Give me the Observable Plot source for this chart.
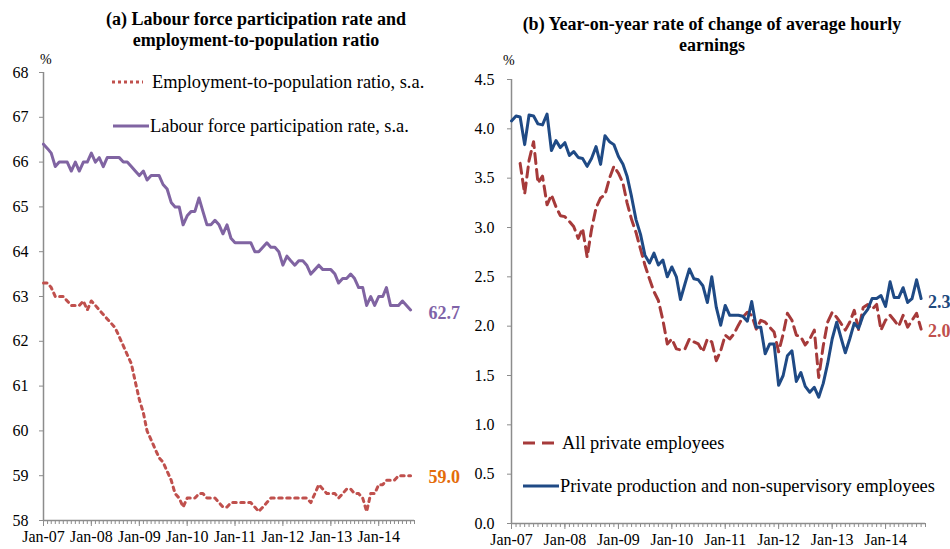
<!DOCTYPE html>
<html><head><meta charset="utf-8">
<script src="https://cdn.jsdelivr.net/npm/d3@7"></script>
<script src="https://cdn.jsdelivr.net/npm/@observablehq/plot@0.6"></script>
<style>
body{margin:0;background:#fff;}
#wrap{position:relative;width:950px;height:549px;font-family:"Liberation Serif","Times New Roman",serif;color:#000;overflow:hidden;background:#fff;}
.panel{position:absolute;top:0;}
.title{position:absolute;text-align:center;font-weight:bold;font-size:18px;line-height:21px;white-space:nowrap;}
.pct{position:absolute;font-size:14px;line-height:14px;}
.leg{position:absolute;font-size:18.4px;line-height:20px;white-space:nowrap;}
.legsvg{position:absolute;}
</style></head><body>
<div id="wrap">
  <div class="title" style="left:56px;width:400px;top:9px;">(a) Labour force participation rate and<br>employment-to-population ratio</div>
  <div class="title" style="left:502px;width:420px;top:14px;line-height:21px;">(b) Year-on-year rate of change of average hourly<br>earnings</div>
  <div id="left" class="panel" style="left:0px;"></div>
  <div id="right" class="panel" style="left:475px;"></div>
  <div class="pct" style="left:40px;top:53px;">%</div>
  <div class="pct" style="left:503px;top:54px;">%</div>
</div>
<script>
// ---------- Data ----------
const startYear = 2007, startMonth = 0;       // Jan-07
const nMonths = 93;                            // Jan-07 .. Sep-14
const axisEnd = new Date(Date.UTC(2014, 9, 1)); // axis runs to Oct-14

// (a) Labour force participation rate, s.a. (%)
const lfpr = [
  66.4, 66.3, 66.2, 65.9, 66.0, 66.0, 66.0, 65.8, 66.0, 65.8, 66.0, 66.0,
  66.2, 66.0, 66.1, 65.9, 66.1, 66.1, 66.1, 66.1, 66.0, 66.0, 65.9, 65.8,
  65.7, 65.8, 65.6, 65.7, 65.7, 65.7, 65.5, 65.4, 65.1, 65.0, 65.0, 64.6,
  64.8, 64.9, 64.9, 65.2, 64.9, 64.6, 64.6, 64.7, 64.6, 64.4, 64.6, 64.3,
  64.2, 64.2, 64.2, 64.2, 64.2, 64.0, 64.0, 64.1, 64.2, 64.1, 64.1, 64.0,
  63.7, 63.9, 63.8, 63.7, 63.8, 63.8, 63.7, 63.5, 63.6, 63.7, 63.6, 63.6,
  63.6, 63.5, 63.3, 63.4, 63.4, 63.5, 63.4, 63.2, 63.2, 62.8, 63.0, 62.8,
  63.0, 63.0, 63.2, 62.8, 62.8, 62.8, 62.9, 62.8, 62.7
];
// (a) Employment-to-population ratio, s.a. (%)
const epop = [
  63.3, 63.3, 63.2, 63.0, 63.0, 63.0, 62.9, 62.8, 62.8, 62.8, 62.9, 62.7,
  62.9, 62.8, 62.7, 62.6, 62.5, 62.4, 62.3, 62.1, 61.9, 61.7, 61.5, 61.1,
  60.7, 60.4, 60.0, 59.8, 59.6, 59.4, 59.3, 59.1, 58.9, 58.6, 58.5, 58.3,
  58.5, 58.5, 58.5, 58.6, 58.6, 58.5, 58.5, 58.5, 58.4, 58.3, 58.3, 58.4,
  58.4, 58.4, 58.4, 58.4, 58.4, 58.3, 58.2, 58.3, 58.4, 58.5, 58.5, 58.5,
  58.5, 58.5, 58.5, 58.5, 58.5, 58.5, 58.5, 58.4, 58.6, 58.8, 58.7, 58.6,
  58.6, 58.6, 58.5, 58.6, 58.7, 58.7, 58.6, 58.6, 58.5, 58.2, 58.6, 58.6,
  58.8, 58.8, 58.9, 58.9, 58.9, 59.0, 59.0, 59.0, 59.0
];
// (b) Private production and non-supervisory employees, y-o-y % change
const prodNonSup = [
  4.08, 4.13, 4.12, 3.84, 4.14, 4.13, 4.05, 4.04, 4.15, 3.78, 3.88, 3.81,
  3.86, 3.73, 3.77, 3.71, 3.70, 3.62, 3.70, 3.82, 3.64, 3.93, 3.87, 3.84,
  3.72, 3.64, 3.52, 3.31, 3.08, 2.93, 2.72, 2.64, 2.74, 2.62, 2.67, 2.50,
  2.60, 2.50, 2.27, 2.43, 2.58, 2.48, 2.47, 2.41, 2.24, 2.50, 2.19, 2.01,
  2.21, 2.11, 2.11, 2.11, 2.10, 2.05, 2.25, 1.99, 1.99, 1.72, 1.82, 1.82,
  1.40, 1.50, 1.70, 1.75, 1.44, 1.53, 1.39, 1.33, 1.38, 1.28, 1.42, 1.62,
  1.87, 2.04, 1.89, 1.73, 1.87, 2.03, 1.98, 2.11, 2.17, 2.28, 2.28, 2.31,
  2.20, 2.45, 2.29, 2.29, 2.39, 2.24, 2.28, 2.47, 2.28
];
// (b) All private employees, y-o-y % change (series starts Mar-07)
const allPrivate = [
  null, null, 3.65, 3.34, 3.68, 3.87, 3.45, 3.52, 3.23, 3.33, 3.21, 3.12,
  3.11, 3.06, 3.01, 2.89, 2.99, 2.70, 2.98, 3.20, 3.30, 3.33, 3.50, 3.62,
  3.55, 3.45, 3.25, 3.08, 2.95, 2.78, 2.62, 2.48, 2.35, 2.26, 2.06, 1.82,
  1.87, 1.77, 1.76, 1.77, 1.87, 1.84, 1.82, 1.74, 1.87, 1.84, 1.65, 1.75,
  1.91, 1.87, 1.92, 2.01, 2.09, 2.14, 2.11, 1.97, 2.06, 2.04, 1.99, 1.94,
  1.74, 1.92, 2.13, 2.06, 1.91, 1.89, 1.81, 1.87, 1.96, 1.48, 1.80, 2.04,
  2.14, 2.09, 2.03, 1.96, 2.04, 2.16, 1.96, 2.19, 2.22, 2.17, 2.22, 1.96,
  2.06, 2.11, 2.06, 2.00, 2.11, 1.99, 2.06, 2.13, 1.97
];
const leftYTicks = [58, 59, 60, 61, 62, 63, 64, 65, 66, 67, 68];
const rightYTicks = [0, 0.5, 1.0, 1.5, 2.0, 2.5, 3.0, 3.5, 4.0, 4.5];
const legendA = ["Employment-to-population ratio, s.a.", "Labour force participation rate, s.a."];
const legendB = ["All private employees", "Private production and non-supervisory employees"];

// ---------- Build ----------
const xStart = new Date(Date.UTC(startYear, startMonth, 1));
const dates = d3.utcMonth.range(xStart, d3.utcMonth.offset(xStart, nMonths));
const rows = dates.map((d, i) => ({date: d, lfpr: lfpr[i], epop: epop[i], prod: prodNonSup[i], all: allPrivate[i]}));
const yearTicks = d3.utcYear.range(xStart, axisEnd);
const monthTicks = d3.utcMonth.range(xStart, d3.utcMonth.offset(axisEnd, 1));
const fmtX = d3.utcFormat("%b-%y");
const last = rows[rows.length - 1];
const axisGrey = "#8c8c8c";

const C = {purple: "#8064A2", purpleLbl: "#7F63A8", epRed: "#C0504D", orange: "#E46C0A",
           blue: "#1F4A85", blueLbl: "#1F497D", darkRed: "#A63A3A", redLbl: "#C0504D"};

const baseStyle = {fontFamily: "'Liberation Serif', 'Times New Roman', serif", fontSize: "16px", color: "#000", background: "transparent", overflow: "visible"};

const left = Plot.plot({
  width: 475, height: 549,
  marginLeft: 43, marginRight: 61, marginTop: 72, marginBottom: 29,
  style: baseStyle,
  x: {type: "utc", domain: [xStart, axisEnd]},
  y: {domain: [58, 68]},
  marks: [
    Plot.axisX({ticks: monthTicks, tickSize: 4, tickFormat: () => "", stroke: axisGrey, label: null}),
    Plot.axisX({ticks: yearTicks, tickSize: 6, tickPadding: 4, tickFormat: fmtX, stroke: axisGrey, label: null}),
    Plot.axisY({ticks: leftYTicks, tickSize: 4, tickPadding: 11, stroke: axisGrey, label: null}),
    Plot.ruleX([xStart], {stroke: axisGrey, strokeWidth: 1.5}),
    Plot.ruleY([58], {stroke: axisGrey, strokeWidth: 1.5}),
    Plot.line(rows, {x: "date", y: "epop", stroke: C.epRed, strokeWidth: 3, strokeDasharray: "3.5,4.5"}),
    Plot.line(rows, {x: "date", y: "lfpr", stroke: C.purple, strokeWidth: 3}),
    Plot.text([last], {x: "date", y: "lfpr", text: d => d.lfpr.toFixed(1), dx: 18, dy: 3, textAnchor: "start", fill: C.purpleLbl, fontWeight: "bold", fontSize: 18}),
    Plot.text([last], {x: "date", y: "epop", text: d => d.epop.toFixed(1), dx: 18, dy: 2, textAnchor: "start", fill: C.orange, fontWeight: "bold", fontSize: 18})
  ]
});
document.getElementById("left").appendChild(left);

const right = Plot.plot({
  width: 475, height: 549,
  marginLeft: 36, marginRight: 25, marginTop: 79, marginBottom: 26,
  style: baseStyle,
  x: {type: "utc", domain: [xStart, axisEnd]},
  y: {domain: [0, 4.5]},
  marks: [
    Plot.axisX({ticks: monthTicks, tickSize: 4, tickFormat: () => "", stroke: axisGrey, label: null}),
    Plot.axisX({ticks: yearTicks, tickSize: 6, tickPadding: 4, tickFormat: fmtX, stroke: axisGrey, label: null}),
    Plot.axisY({ticks: rightYTicks, tickSize: 4, tickPadding: 13, tickFormat: d3.format(".1f"), stroke: axisGrey, label: null}),
    Plot.ruleX([xStart], {stroke: axisGrey, strokeWidth: 1.5}),
    Plot.ruleY([0], {stroke: axisGrey, strokeWidth: 1.5}),
    Plot.line(rows.filter(d => d.all != null), {x: "date", y: "all", stroke: C.darkRed, strokeWidth: 3, strokeDasharray: "10,6"}),
    Plot.line(rows, {x: "date", y: "prod", stroke: C.blue, strokeWidth: 3}),
    Plot.text([last], {x: "date", y: "prod", text: d => d.prod.toFixed(1), dx: 7, dy: 4, textAnchor: "start", fill: C.blueLbl, fontWeight: "bold", fontSize: 18}),
    Plot.text([last], {x: "date", y: "all", text: d => d.all.toFixed(1), dx: 7, dy: 2, textAnchor: "start", fill: C.redLbl, fontWeight: "bold", fontSize: 18})
  ]
});
document.getElementById("right").appendChild(right);

// ---------- Legends ----------
const wrap = document.getElementById("wrap");
function legendItem(x0, x1, cy, color, dash, textX, label) {
  const ns = "http://www.w3.org/2000/svg";
  const svg = document.createElementNS(ns, "svg");
  svg.setAttribute("class", "legsvg");
  svg.setAttribute("width", x1 - x0);
  svg.setAttribute("height", 8);
  svg.style.left = x0 + "px";
  svg.style.top = (cy - 4) + "px";
  const ln = document.createElementNS(ns, "line");
  ln.setAttribute("x1", 0); ln.setAttribute("x2", x1 - x0);
  ln.setAttribute("y1", 4); ln.setAttribute("y2", 4);
  ln.setAttribute("stroke", color); ln.setAttribute("stroke-width", 3);
  if (dash) ln.setAttribute("stroke-dasharray", dash);
  svg.appendChild(ln);
  wrap.appendChild(svg);
  const t = document.createElement("div");
  t.className = "leg";
  t.style.left = textX + "px";
  t.style.top = (cy - 10) + "px";
  t.textContent = label;
  wrap.appendChild(t);
}
legendItem(112, 143, 82, C.epRed, "3,3", 152, legendA[0]);
legendItem(113, 149, 126, C.purple, null, 150, legendA[1]);
legendItem(523, 554, 443, C.darkRed, "12,7", 562, legendB[0]);
legendItem(523, 559, 486, C.blue, null, 560, legendB[1]);
</script>
</body></html>
